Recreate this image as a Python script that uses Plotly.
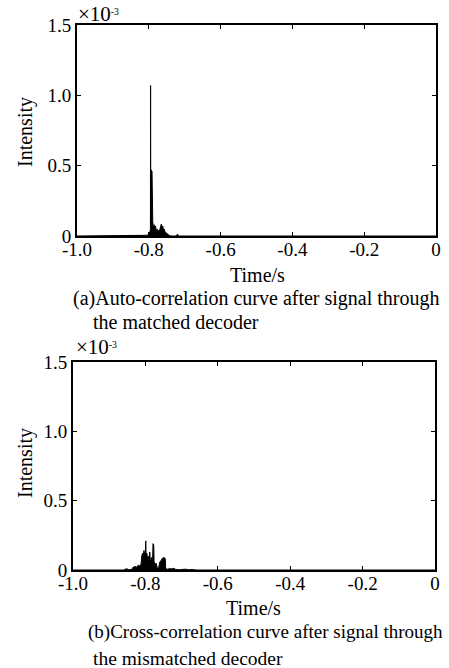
import plotly.graph_objects as go

# ---- data (time in s, intensity in units of 1e-3) ----
time_a = [-1.0, -0.81, -0.803, -0.800, -0.798, -0.7965, -0.7955, -0.795, -0.7945, -0.794,
          -0.7935, -0.791, -0.7895, -0.789, -0.787, -0.785, -0.783, -0.781, -0.779, -0.777,
          -0.775, -0.773, -0.771, -0.769, -0.767, -0.765, -0.763, -0.761, -0.759, -0.757,
          -0.755, -0.753, -0.751, -0.749, -0.747, -0.745, -0.742, -0.735, -0.725, -0.722,
          -0.720, -0.718, -0.715, -0.70, 0.0]
intensity_a = [0, 0, 0.005, 0.02, 0.03, 0.02, 0.05, 1.07, 0.10, 0.47,
               0.47, 0.46, 0.12, 0.10, 0.06, 0.08, 0.04, 0.07, 0.03, 0.05,
               0.02, 0.04, 0.03, 0.05, 0.07, 0.085, 0.06, 0.07, 0.04, 0.05,
               0.03, 0.025, 0.02, 0.015, 0.01, 0.005, 0.002, 0, 0, 0.008,
               0.012, 0.006, 0, 0, 0]

time_b = [-1.0, -0.86, -0.856, -0.850, -0.846, -0.838, -0.834, -0.828, -0.824, -0.820,
          -0.816, -0.812, -0.810, -0.808, -0.806, -0.804, -0.802, -0.800, -0.799, -0.798,
          -0.796, -0.794, -0.792, -0.790, -0.788, -0.786, -0.783, -0.780, -0.779, -0.777,
          -0.776, -0.773, -0.770, -0.767, -0.763, -0.760, -0.756, -0.753, -0.748, -0.745,
          -0.744, -0.738, -0.734, -0.728, -0.722, -0.716, -0.705, -0.695, -0.690, -0.680,
          -0.670, -0.660, 0.0]
intensity_b = [0, 0, 0.006, 0.008, 0.002, 0.004, 0.02, 0.025, 0.02, 0.035,
               0.03, 0.04, 0.10, 0.12, 0.09, 0.14, 0.10, 0.13, 0.21, 0.10,
               0.12, 0.08, 0.10, 0.06, 0.13, 0.05, 0.09, 0.07, 0.19, 0.18,
               0.06, 0.04, 0.05, 0.01, 0.02, 0.06, 0.07, 0.085, 0.09, 0.08,
               0.01, 0.005, 0.01, 0.008, 0.012, 0.004, 0.002, 0.008, 0.006, 0.002,
               0.004, 0, 0]

x_tick_vals = [-1.0, -0.8, -0.6, -0.4, -0.2, 0.0]
x_tick_text = ["-1.0", "-0.8", "-0.6", "-0.4", "-0.2", "0"]
y_tick_vals = [0, 0.5, 1.0, 1.5]
y_tick_text = ["0", "0.5", "1.0", "1.5"]

x_title = "Time/s"
y_title = "Intensity"
scale_label = "×10<span style='font-size:14px'><sup>-3</sup></span>"
caption_a = ["(a)Auto-correlation curve after signal through", "the matched decoder"]
caption_b = ["(b)Cross-correlation curve after signal through", "the mismatched decoder"]

W, H = 449, 668
FONT = "Liberation Serif"

def px(x):
    return x / W

def py(y):
    return 1 - y / H

fig = go.Figure()
fig.add_trace(go.Scatter(x=time_a, y=intensity_a, mode="lines", fill="tozeroy",
                         line=dict(color="black", width=1), fillcolor="black",
                         xaxis="x", yaxis="y", showlegend=False))
fig.add_trace(go.Scatter(x=time_b, y=intensity_b, mode="lines", fill="tozeroy",
                         line=dict(color="black", width=1), fillcolor="black",
                         xaxis="x2", yaxis="y2", showlegend=False))

axis_common = dict(showline=True, linecolor="black", linewidth=2, mirror="allticks",
                   ticks="inside", ticklen=4, tickwidth=1, tickcolor="black",
                   showgrid=False, zeroline=False, automargin=False,
                   tickfont=dict(family=FONT, size=19, color="black"))

fig.update_layout(
    width=W, height=H,
    margin=dict(l=0, r=0, t=0, b=0, pad=0, autoexpand=False),
    paper_bgcolor="white", plot_bgcolor="white",
    xaxis=dict(domain=[px(77), px(436)], range=[-1, 0], anchor="y",
               tickvals=x_tick_vals, ticktext=x_tick_text, ticklabelstandoff=-5,
               **axis_common),
    yaxis=dict(domain=[py(236), py(25)], range=[0, 1.5], anchor="x",
               tickvals=y_tick_vals, ticktext=y_tick_text, **axis_common),
    xaxis2=dict(domain=[px(73), px(435)], range=[-1, 0], anchor="y2",
                tickvals=x_tick_vals, ticktext=x_tick_text, ticklabelstandoff=-5,
                **axis_common),
    yaxis2=dict(domain=[py(570), py(362)], range=[0, 1.5], anchor="x2",
                tickvals=y_tick_vals, ticktext=y_tick_text, **axis_common),
)

def ann(text, x, y, xanchor="center", size=19, angle=0):
    fig.add_annotation(text=text, x=px(x), y=py(y), xref="paper", yref="paper",
                       xanchor=xanchor, yanchor="middle", showarrow=False, textangle=angle,
                       font=dict(family=FONT, size=size, color="black"))

# top panel texts
ann(scale_label, 76, 14, xanchor="left", size=21)
ann(y_title, 25, 132, size=20, angle=-90)
ann(x_title, 257, 275, size=20)
ann(caption_a[0], 71, 298, xanchor="left", size=20)
ann(caption_a[1], 91, 322, xanchor="left", size=20)

# bottom panel texts
ann(scale_label, 74, 347, xanchor="left", size=21)
ann(y_title, 25, 463, size=20, angle=-90)
ann(x_title, 253, 608, size=20)
ann(caption_b[0], 86, 632, xanchor="left", size=19)
ann(caption_b[1], 91, 658, xanchor="left", size=19.5)

fig.write_html("out.html", config={"displayModeBar": False},
               post_script="document.body.style.margin='0';document.body.style.overflow='hidden';")
